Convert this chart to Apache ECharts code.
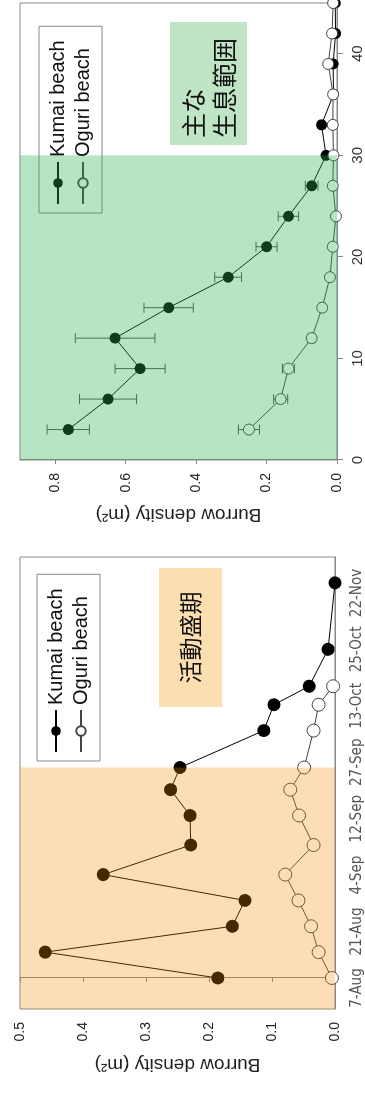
<!DOCTYPE html>
<html><head><meta charset="utf-8">
<script src="https://cdn.jsdelivr.net/npm/echarts@6/dist/echarts.min.js"></script>
<style>
html,body{margin:0;padding:0;background:#fff;overflow:hidden;width:365px;height:1095px;}
#wrap{position:absolute;left:0;top:0;width:1095px;height:365px;transform-origin:0 0;transform:translateY(1095px) rotate(-90deg);}
</style></head><body>
<div id="wrap"></div>
<script>
// ---- data: seasonal survey ----
const sampleDates = ['08-07','08-14','08-21','08-28','09-04','09-12','09-20','09-27','10-03','10-13','10-20','10-25','11-04','11-22'];
const dateLabels = ['7-Aug','21-Aug','4-Sep','12-Sep','27-Sep','13-Oct','25-Oct','22-Nov'];
const kumaiSeason = [0.186,0.460,0.163,0.143,0.368,0.229,0.230,0.261,0.246,0.113,0.097,0.041,0.011,0.000];
const oguriSeason = [0.005,0.026,0.038,0.058,0.079,0.034,0.057,0.071,0.049,0.034,0.026,0.003,null,null];
const seasonValueTicks = [0,0.1,0.2,0.3,0.4,0.5];
const peakEnd = '10-03';
// ---- data: distance survey ----
const distances = [3,6,9,12,15,18,21,24,27,30,33,36,39,42,45];
const kumaiDist = [0.763,0.650,0.559,0.630,0.478,0.309,0.200,0.138,0.072,0.031,0.044,0.010,0.011,0.004,0.005];
const kumaiErr  = [0.060,0.081,0.071,0.113,0.070,0.038,0.030,0.029,0.018,0.004,0.006,0.003,0.004,0.002,0.002];
const oguriDist = [0.250,0.160,0.138,0.072,0.042,0.020,0.012,0.003,0.012,0.010,0.012,0.011,0.025,0.014,0.011];
const oguriErr  = [0.030,0.020,0.017,0.010,0.008,0.005,0.004,0.003,0.004,0.004,0.004,0.004,0.006,0.004,0.003];
const distValueTicks = [0,0.2,0.4,0.6,0.8];
const distAxisTicks = [0,10,20,30,40];
const habitatEnd = 30;

const seasonMin = -8.4, seasonMax = 114;
function dayOf(s){const p=s.split('-').map(Number);return (Date.UTC(2000,p[0]-1,p[1])-Date.UTC(2000,7,7))/86400000;}
const SANS = '"Liberation Sans", Arial, sans-serif';
const NARROW = '"Liberation Sans Narrow", "DejaVu Sans Condensed", sans-serif';
const CJK = '"Noto Sans CJK JP", sans-serif';

const kumaiSeasonData = sampleDates.map((d,i)=>[dayOf(d),kumaiSeason[i]]);
const oguriSeasonData = sampleDates.map((d,i)=>oguriSeason[i]==null?null:[dayOf(d),oguriSeason[i]]).filter(Boolean);

function errSeries(vals, errs){
  return {type:'custom', xAxisIndex:1, yAxisIndex:1, z:2, silent:true, clip:false,
    data: distances.map((d,i)=>[d, vals[i]-errs[i], vals[i]+errs[i]]),
    encode:{x:0, y:[1,2]},
    renderItem(params, api){
      const x=api.value(0);
      const lo=api.coord([x,api.value(1)]), hi=api.coord([x,api.value(2)]);
      const c=5, st={stroke:'#555', lineWidth:1};
      return {type:'group', children:[
        {type:'line', shape:{x1:lo[0],y1:lo[1],x2:hi[0],y2:hi[1]}, style:st},
        {type:'line', shape:{x1:lo[0]-c,y1:lo[1],x2:lo[0]+c,y2:lo[1]}, style:st},
        {type:'line', shape:{x1:hi[0]-c,y1:hi[1],x2:hi[0]+c,y2:hi[1]}, style:st}
      ]};
    }};
}

const gray = '#888';
const valueAxisBase = {
  type:'value', nameLocation:'middle', nameGap:46,
  name:'Burrow density (m²)',
  nameTextStyle:{fontSize:19, color:'#222', fontFamily:SANS},
  axisLine:{show:true, lineStyle:{color:gray}},
  axisTick:{show:true, length:4, lineStyle:{color:gray}},
  axisLabel:{fontSize:14, color:'#222', fontFamily:SANS, margin:13, formatter:v=>Number(v).toFixed(1)},
  splitLine:{show:false}
};

const legendBase = {
  orient:'vertical', data:['Kumai beach','Oguri beach'], itemWidth:42, itemHeight:12, itemGap:3,
  padding:[8,14,8,8], borderColor:gray, borderWidth:1, borderRadius:0, selectedMode:false,
  textStyle:{fontSize:20, color:'#111', fontFamily:SANS, lineHeight:22}
};

const chart = echarts.init(document.getElementById('wrap'), null, {renderer:'canvas'});
chart.setOption({
  animation:false,
  backgroundColor:'#fff',
  grid:[
    {left:86, top:20, width:452, height:315, show:true, borderColor:gray, borderWidth:1, backgroundColor:'transparent'},
    {left:635, top:20, width:457, height:317, show:true, borderColor:gray, borderWidth:1, backgroundColor:'transparent'},
    {left:107, top:20, width:395, height:315, show:false}
  ],
  xAxis:[
    {gridIndex:0, type:'value', min:seasonMin, max:seasonMax, axisLine:{show:true, lineStyle:{color:gray}},
     axisTick:{show:false}, axisLabel:{show:false}, splitLine:{show:false}},
    {gridIndex:1, type:'value', min:0, max:45, interval:10, axisLine:{show:true, lineStyle:{color:gray}},
     axisTick:{show:true, length:6, lineStyle:{color:gray}, customValues:distAxisTicks},
     axisLabel:{fontSize:15, color:'#333', fontFamily:SANS, margin:13, customValues:distAxisTicks},
     splitLine:{show:false}},
    {gridIndex:2, type:'category', data:dateLabels, boundaryGap:false, axisLine:{show:false}, axisTick:{show:false},
     axisLabel:{interval:0, fontSize:15, color:'#555', fontFamily:NARROW, margin:15}, splitLine:{show:false}}
  ],
  yAxis:[
    Object.assign({}, valueAxisBase, {gridIndex:0, min:0, max:0.5, interval:0.1}),
    Object.assign({}, valueAxisBase, {gridIndex:1, min:0, max:0.9, interval:0.2, nameGap:45,
      axisTick:Object.assign({}, valueAxisBase.axisTick, {customValues:distValueTicks}),
      axisLabel:Object.assign({}, valueAxisBase.axisLabel, {customValues:distValueTicks})}),
    {gridIndex:2, type:'value', show:false}
  ],
  legend:[
    Object.assign({}, legendBase, {left:334, top:37}),
    Object.assign({}, legendBase, {left:882, top:39})
  ],
  graphic:[
    {type:'rect', z:5, shape:{x:388, y:159, width:139, height:63}, style:{fill:'#fbdfb0'}},
    {type:'text', z:6, style:{text:'活動盛期', x:457.5, y:190.5, align:'center', verticalAlign:'middle', font:'23px '+CJK, fill:'#111'}},
    {type:'rect', z:5, shape:{x:950, y:170, width:123, height:77}, style:{fill:'#bfe4c6'}},
    {type:'text', z:6, style:{text:'主な\n生息範囲', x:957, y:208.5, align:'left', verticalAlign:'middle', font:'25px '+CJK, lineHeight:31, fill:'#111'}}
  ],
  series:[
    {name:'Kumai beach', type:'line', xAxisIndex:0, yAxisIndex:0, data:kumaiSeasonData, z:3,
     symbol:'circle', symbolSize:13, itemStyle:{color:'#000'}, lineStyle:{color:'#000', width:1}},
    {name:'Oguri beach', type:'line', xAxisIndex:0, yAxisIndex:0, data:oguriSeasonData, z:3,
     symbol:'circle', symbolSize:13, itemStyle:{color:'#fff', borderColor:'#444', borderWidth:1}, lineStyle:{color:'#444', width:1},
     markArea:{silent:true, z:10, itemStyle:{color:'rgba(240,140,10,0.29)'}, label:{show:false},
       data:[[{xAxis:seasonMin},{xAxis:dayOf(peakEnd)}]]}},
    errSeries(kumaiDist, kumaiErr),
    errSeries(oguriDist, oguriErr),
    {name:'Kumai beach', type:'line', xAxisIndex:1, yAxisIndex:1, data:distances.map((d,i)=>[d,kumaiDist[i]]), z:3,
     symbol:'circle', symbolSize:11, itemStyle:{color:'#000'}, lineStyle:{color:'#000', width:1}},
    {name:'Oguri beach', type:'line', xAxisIndex:1, yAxisIndex:1, data:distances.map((d,i)=>[d,oguriDist[i]]), z:3,
     symbol:'circle', symbolSize:11, itemStyle:{color:'#fff', borderColor:'#444', borderWidth:1}, lineStyle:{color:'#444', width:1},
     markArea:{silent:true, z:10, itemStyle:{color:'rgba(44,179,82,0.34)'}, label:{show:false},
       data:[[{xAxis:0},{xAxis:habitatEnd}]]}}
  ]
});
</script>
</body></html>
